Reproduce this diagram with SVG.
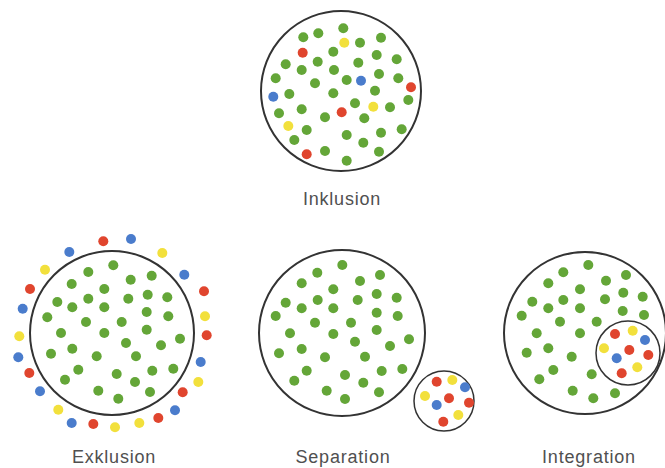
<svg xmlns="http://www.w3.org/2000/svg" width="665" height="468" viewBox="0 0 665 468">
<style>
.ring{fill:none;stroke:#333;stroke-width:2}
.ring2{fill:none;stroke:#333;stroke-width:1.5}
.g{fill:#64a638}
.r{fill:#e0452e}
.b{fill:#4a7ccc}
.y{fill:#f2e03c}
.lbl{font-family:"Liberation Sans",Arial,sans-serif;font-size:18px;fill:#505050;letter-spacing:0.8px;text-anchor:middle}
</style>
<rect width="665" height="468" fill="#fff"/>
<g id="inklusion">
<circle class="ring" cx="341" cy="91" r="80"/>
<g class="g">
<circle cx="343.3" cy="28.3" r="5"/><circle cx="303.3" cy="37.3" r="5"/><circle cx="318.3" cy="33.3" r="5"/><circle cx="360" cy="42.7" r="5"/><circle cx="381" cy="37.7" r="5"/><circle cx="333.3" cy="51.7" r="5"/><circle cx="376.7" cy="55" r="5"/><circle cx="396.7" cy="59.3" r="5"/><circle cx="285.7" cy="64.3" r="5"/><circle cx="301.7" cy="70" r="5"/><circle cx="317.7" cy="61.7" r="5"/><circle cx="334" cy="70" r="5"/><circle cx="358.3" cy="62.7" r="5"/><circle cx="275.7" cy="78.3" r="5"/><circle cx="315" cy="83.3" r="5"/><circle cx="346.7" cy="80" r="5"/><circle cx="379" cy="74" r="5"/><circle cx="398.3" cy="78.3" r="5"/><circle cx="289.3" cy="94" r="5"/><circle cx="333.3" cy="93.3" r="5"/><circle cx="375" cy="90.7" r="5"/><circle cx="408.3" cy="100" r="5"/><circle cx="355" cy="103.3" r="5"/><circle cx="390" cy="107.3" r="5"/><circle cx="279" cy="113.3" r="5"/><circle cx="301.7" cy="109.3" r="5"/><circle cx="325" cy="117.3" r="5"/><circle cx="364.3" cy="118.3" r="5"/><circle cx="306.7" cy="130" r="5"/><circle cx="346.7" cy="135" r="5"/><circle cx="381" cy="132.7" r="5"/><circle cx="401.7" cy="129.3" r="5"/><circle cx="294.3" cy="140" r="5"/><circle cx="363.3" cy="142.7" r="5"/><circle cx="325" cy="151" r="5"/><circle cx="379" cy="151.7" r="5"/><circle cx="346.7" cy="160.7" r="5"/>
</g>
<circle class="y" cx="344.3" cy="42.7" r="5"/>
<circle class="r" cx="302.7" cy="52.7" r="5"/>
<circle class="b" cx="361" cy="80.7" r="5"/>
<circle class="r" cx="411" cy="87.3" r="5"/>
<circle class="b" cx="273.3" cy="96.7" r="5"/>
<circle class="y" cx="373.3" cy="106.7" r="5"/>
<circle class="r" cx="341.7" cy="112.3" r="5"/>
<circle class="y" cx="288.3" cy="126" r="5"/>
<circle class="r" cx="306.7" cy="154.3" r="5"/>
<text class="lbl" x="342" y="205">Inklusion</text>
</g>
<g id="exklusion">
<circle class="ring" cx="112" cy="333" r="82"/>
<g class="g">
<circle cx="113.3" cy="265.3" r="5"/><circle cx="88.3" cy="272" r="5"/><circle cx="71.7" cy="284" r="5"/><circle cx="130.7" cy="279.7" r="5"/><circle cx="151.7" cy="275.7" r="5"/><circle cx="104.3" cy="289" r="5"/><circle cx="57.3" cy="302" r="5"/><circle cx="88.3" cy="298.7" r="5"/><circle cx="128.3" cy="298.7" r="5"/><circle cx="147.7" cy="294.7" r="5"/><circle cx="167.3" cy="297.3" r="5"/><circle cx="72.3" cy="307.3" r="5"/><circle cx="104.3" cy="307.3" r="5"/><circle cx="146.7" cy="312" r="5"/><circle cx="47.3" cy="317.3" r="5"/><circle cx="86" cy="322" r="5"/><circle cx="121.7" cy="322" r="5"/><circle cx="168.3" cy="316.3" r="5"/><circle cx="61" cy="333" r="5"/><circle cx="104.3" cy="333" r="5"/><circle cx="146.7" cy="329.7" r="5"/><circle cx="180" cy="338.7" r="5"/><circle cx="126" cy="343" r="5"/><circle cx="72.3" cy="348.7" r="5"/><circle cx="161" cy="345.3" r="5"/><circle cx="51" cy="353.7" r="5"/><circle cx="96.7" cy="356.3" r="5"/><circle cx="136" cy="356.3" r="5"/><circle cx="78.3" cy="369.7" r="5"/><circle cx="116.7" cy="374" r="5"/><circle cx="152.3" cy="370.7" r="5"/><circle cx="173.3" cy="368.7" r="5"/><circle cx="65" cy="379.7" r="5"/><circle cx="135" cy="382" r="5"/><circle cx="98.3" cy="390.7" r="5"/><circle cx="150" cy="392" r="5"/><circle cx="118.3" cy="398.7" r="5"/>
</g>
<circle class="r" cx="103.3" cy="241.3" r="5"/>
<circle class="b" cx="131" cy="239" r="5"/>
<circle class="b" cx="69.3" cy="252" r="5"/>
<circle class="y" cx="162.3" cy="253" r="5"/>
<circle class="y" cx="45" cy="269.7" r="5"/>
<circle class="b" cx="184.3" cy="274.7" r="5"/>
<circle class="r" cx="30" cy="289" r="5"/>
<circle class="r" cx="204" cy="291.3" r="5"/>
<circle class="b" cx="22.7" cy="308.7" r="5"/>
<circle class="y" cx="205" cy="316.3" r="5"/>
<circle class="y" cx="19.3" cy="336.3" r="5"/>
<circle class="r" cx="206.7" cy="335.3" r="5"/>
<circle class="b" cx="18.3" cy="357.3" r="5"/>
<circle class="b" cx="200.7" cy="362" r="5"/>
<circle class="r" cx="29.3" cy="373" r="5"/>
<circle class="y" cx="198.3" cy="382" r="5"/>
<circle class="b" cx="40" cy="391.3" r="5"/>
<circle class="r" cx="182.7" cy="392.3" r="5"/>
<circle class="y" cx="58.3" cy="409.7" r="5"/>
<circle class="b" cx="175" cy="410.3" r="5"/>
<circle class="b" cx="71.7" cy="423" r="5"/>
<circle class="r" cx="93.3" cy="424" r="5"/>
<circle class="y" cx="115" cy="427.3" r="5"/>
<circle class="y" cx="139.3" cy="423" r="5"/>
<circle class="r" cx="158.3" cy="418" r="5"/>
<text class="lbl" x="114" y="463">Exklusion</text>
</g>
<g id="separation">
<circle class="ring" cx="342" cy="333" r="83"/>
<g class="g">
<circle cx="342.3" cy="265" r="5"/><circle cx="317.3" cy="272.7" r="5"/><circle cx="380" cy="275" r="5"/><circle cx="301.7" cy="283.3" r="5"/><circle cx="360" cy="281" r="5"/><circle cx="333.3" cy="289.3" r="5"/><circle cx="376.7" cy="294" r="5"/><circle cx="396.7" cy="297.7" r="5"/><circle cx="285.7" cy="302.7" r="5"/><circle cx="317.7" cy="300" r="5"/><circle cx="357.7" cy="300" r="5"/><circle cx="301.7" cy="308.3" r="5"/><circle cx="333.3" cy="308.3" r="5"/><circle cx="376.7" cy="312.7" r="5"/><circle cx="275.7" cy="316" r="5"/><circle cx="397.7" cy="316" r="5"/><circle cx="315" cy="322.7" r="5"/><circle cx="351" cy="322.7" r="5"/><circle cx="376.7" cy="330" r="5"/><circle cx="290" cy="333.3" r="5"/><circle cx="333.3" cy="334" r="5"/><circle cx="355" cy="341.7" r="5"/><circle cx="409" cy="339.3" r="5"/><circle cx="390" cy="346" r="5"/><circle cx="301.7" cy="349" r="5"/><circle cx="279" cy="353.3" r="5"/><circle cx="325" cy="357.3" r="5"/><circle cx="365" cy="356.7" r="5"/><circle cx="306.7" cy="370.7" r="5"/><circle cx="381.7" cy="371" r="5"/><circle cx="402.3" cy="369" r="5"/><circle cx="345" cy="375" r="5"/><circle cx="294.3" cy="380.7" r="5"/><circle cx="363.3" cy="382.7" r="5"/><circle cx="326.7" cy="390.7" r="5"/><circle cx="379" cy="392.3" r="5"/><circle cx="345" cy="399" r="5"/>
</g>
<circle class="ring2" fill="#fff" cx="444" cy="401" r="30"/>
<circle class="r" cx="436.7" cy="381.7" r="5"/>
<circle class="y" cx="452.3" cy="380" r="5"/>
<circle class="b" cx="465" cy="387.3" r="5"/>
<circle class="y" cx="425" cy="396" r="5"/>
<circle class="r" cx="449" cy="398.3" r="5"/>
<circle class="b" cx="436.7" cy="405" r="5"/>
<circle class="r" cx="469" cy="402.7" r="5"/>
<circle class="y" cx="458.3" cy="415" r="5"/>
<circle class="r" cx="443.3" cy="421.7" r="5"/>
<text class="lbl" x="343" y="463">Separation</text>
</g>
<g id="integration">
<circle class="ring" cx="585" cy="333" r="81"/>
<g class="g">
<circle cx="588.3" cy="265" r="5"/><circle cx="563.3" cy="272.3" r="5"/><circle cx="626" cy="275" r="5"/><circle cx="548.3" cy="283.3" r="5"/><circle cx="606" cy="280.7" r="5"/><circle cx="580" cy="289.3" r="5"/><circle cx="623.3" cy="292.7" r="5"/><circle cx="642.7" cy="296.7" r="5"/><circle cx="532.3" cy="301.7" r="5"/><circle cx="563.3" cy="300" r="5"/><circle cx="605" cy="299.3" r="5"/><circle cx="548.3" cy="308.3" r="5"/><circle cx="580" cy="308.3" r="5"/><circle cx="622.7" cy="311" r="5"/><circle cx="521.7" cy="315.7" r="5"/><circle cx="644" cy="315" r="5"/><circle cx="560" cy="321.7" r="5"/><circle cx="596.7" cy="321.7" r="5"/><circle cx="536.7" cy="333.3" r="5"/><circle cx="580" cy="333.3" r="5"/><circle cx="548.3" cy="348.3" r="5"/><circle cx="526.7" cy="352.7" r="5"/><circle cx="571.7" cy="356.7" r="5"/><circle cx="553.3" cy="370" r="5"/><circle cx="591.7" cy="374.3" r="5"/><circle cx="539.3" cy="379.3" r="5"/><circle cx="615" cy="393.3" r="5"/><circle cx="572.7" cy="390.7" r="5"/><circle cx="593.3" cy="398.3" r="5"/>
</g>
<circle class="ring2" cx="628" cy="353" r="32"/>
<circle class="r" cx="615" cy="334" r="5"/>
<circle class="y" cx="632.7" cy="330.7" r="5"/>
<circle class="b" cx="645" cy="340" r="5"/>
<circle class="y" cx="604" cy="348.3" r="5"/>
<circle class="r" cx="629.3" cy="350" r="5"/>
<circle class="b" cx="616.7" cy="358.3" r="5"/>
<circle class="r" cx="648.3" cy="355" r="5"/>
<circle class="y" cx="637.3" cy="367.3" r="5"/>
<circle class="r" cx="621.7" cy="373.3" r="5"/>
<text class="lbl" x="589" y="463">Integration</text>
</g>
</svg>
